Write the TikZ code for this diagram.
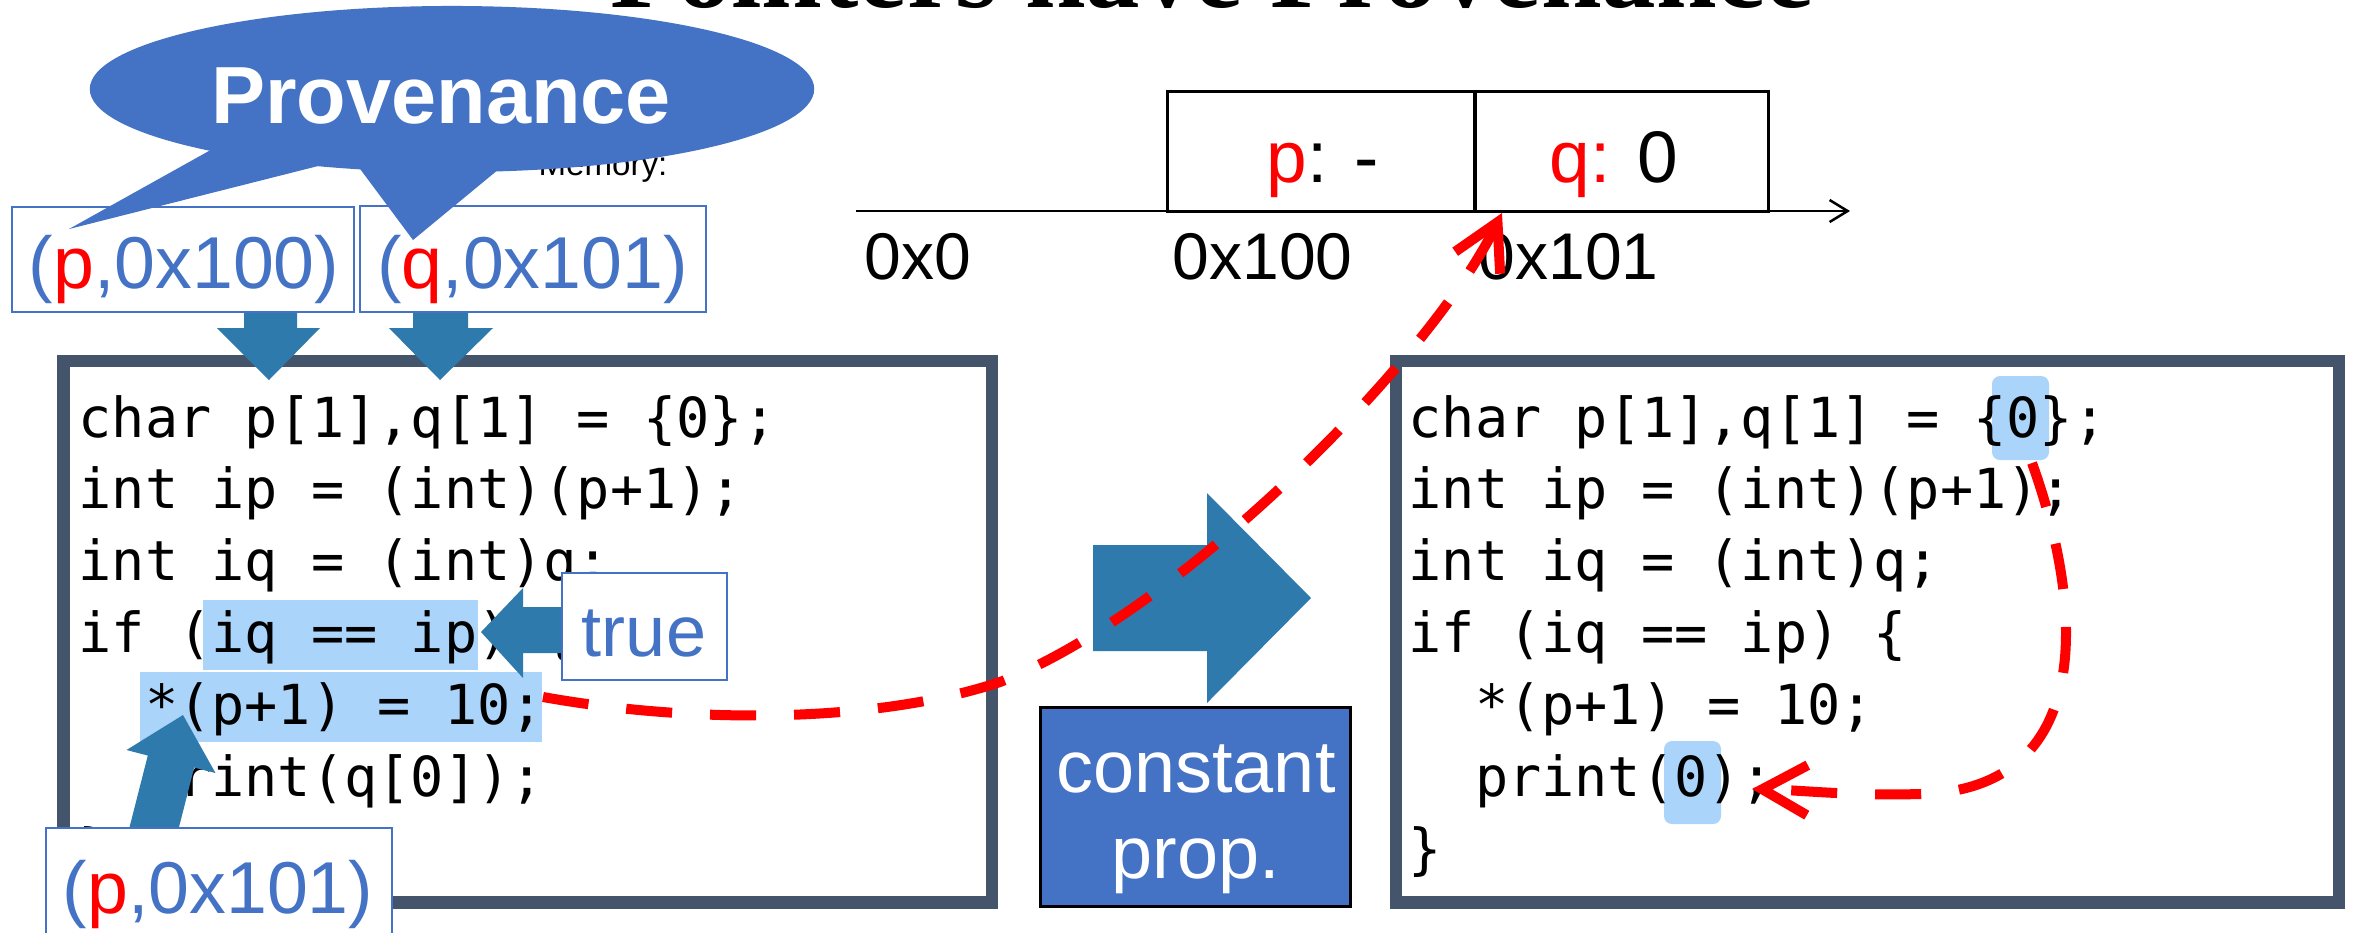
\documentclass[tikz,border=0pt]{standalone}
\usepackage{fontspec}
\setmainfont{Liberation Sans}
\newfontfamily\codefont{DejaVu Sans Mono}
\newfontfamily\titlefont{Liberation Serif}
\usetikzlibrary{arrows.meta}
\definecolor{provblue}{RGB}{68,114,196}
\definecolor{frameslate}{RGB}{68,84,106}
\definecolor{arrowteal}{RGB}{47,122,172}
\definecolor{hlblue}{RGB}{171,212,250}
\newcommand\fsz[1]{\fontsize{#1}{#1}\selectfont}
\begin{document}
\begin{tikzpicture}[x=0.01cm,y=-0.01cm,
  lbl/.style={inner sep=0pt, anchor=base},
  lblw/.style={inner sep=0pt, anchor=base west},
  code/.style={inner sep=0pt, anchor=base west, font=\codefont\fsz{15.69pt}},
  pbox/.style={draw=provblue, line width=0.025cm, fill=white, inner sep=0pt, rectangle},
  codeframe/.style={draw=frameslate, line width=0.125cm, fill=white},
  memcell/.style={draw=black, line width=0.03cm, inner sep=0pt, rectangle, minimum height=1.19cm},
  reddash/.style={draw=red, line width=0.1cm, dash pattern=on 0.46cm off 0.38cm,
     -{Straight Barb[length=0.45cm,width=0.5cm]}},
]
\useasboundingbox (0,0) rectangle (2354,932);
\fill[white] (0,0) rectangle (2354,932);

% title (cut off at top)
\node[lbl, font=\titlefont\bfseries\fsz{31pt}] (title) at (1212,7) {Pointers have Provenance};

% hidden label
\node[lblw, font=\fsz{9.4pt}] (memlbl) at (538,175) {Memory:};

% provenance boxes
\node[pbox, minimum width=3.42cm, minimum height=1.05cm] (b100) at (183,259.5) {};
\node[lbl, text=provblue, font=\fsz{20.9pt}] (t100) at (184,288) {(\textcolor{red}{p},0x100)};
\node[pbox, minimum width=3.46cm, minimum height=1.06cm] (b101) at (533,259) {};
\node[lbl, text=provblue, font=\fsz{20.9pt}] (t101) at (532.5,288) {(\textcolor{red}{q},0x101)};

% speech bubble
\fill[provblue] (452,89) ellipse [x radius=3.62cm, y radius=0.83cm];
\fill[provblue] (69,229) -- (225,142) -- (300,130) -- (330,163) -- cycle;
\fill[provblue] (413,240) -- (346,150) -- (522,150) -- cycle;
\node[lbl, text=white, font=\bfseries\fsz{23.05pt}] (prov) at (441,123) {Provenance};

% code frames
\draw[codeframe] (63.5,361) rectangle (992,902.5);
\draw[codeframe] (1396,361) rectangle (2339,902.5);

% down arrows
\fill[arrowteal] (244,313) -- (297,313) -- (297,328) -- (320,328) -- (269,380) -- (217,328) -- (244,328) -- cycle;
\fill[arrowteal] (413,313) -- (468,313) -- (468,328) -- (493,328) -- (440,380) -- (389,328) -- (413,328) -- cycle;

% highlights
\fill[hlblue] (203,600) rectangle (478,670);
\fill[hlblue] (140,672) rectangle (542,742);
\fill[hlblue, rounded corners=0.08cm] (1992,376) rectangle (2049,460);
\fill[hlblue, rounded corners=0.08cm] (1664,741) rectangle (1721,824);

% left code
\node[code] (l1) at (78,437) {char p[1],q[1] = \{0\};};
\node[code] (l2) at (78,508.9) {int ip = (int)(p+1);};
\node[code] (l3) at (78,580.8) {int iq = (int)q;};
\node[code] (l4) at (78,652.7) {if (iq == ip) \{};
\node[code] (l5) at (144.4,724.6) {*(p+1) = 10;};
\node[code] (l6) at (144.4,796.5) {print(q[0]);};
\node[code] (l7) at (78,868.4) {\}};

% right code
\node[code] (r1) at (1408,437) {char p[1],q[1] = \{0\};};
\node[code] (r2) at (1408,508.9) {int ip = (int)(p+1);};
\node[code] (r3) at (1408,580.8) {int iq = (int)q;};
\node[code] (r4) at (1408,652.7) {if (iq == ip) \{};
\node[code] (r5) at (1474.4,724.6) {*(p+1) = 10;};
\node[code] (r6) at (1474.4,796.5) {print(0);};
\node[code] (r7) at (1408,868.4) {\}};

% big arrow and constant prop.
\fill[arrowteal] (1093,545) -- (1207,545) -- (1207,493) -- (1311,598) -- (1207,703) -- (1207,651) -- (1093,651) -- cycle;
\node[draw=black, line width=0.03cm, fill=provblue, minimum width=3.09cm, minimum height=1.98cm, inner sep=0pt] (cp) at (1195.5,807) {};
\node[lbl, text=white, font=\fsz{21pt}] (cpt1) at (1196,792) {constant};
\node[lbl, text=white, font=\fsz{21pt}] (cpt2) at (1196,878) {prop.};

% true
\fill[arrowteal] (481,632) -- (523,588) -- (523,607) -- (566,607) -- (566,653) -- (523,653) -- (523,678) -- cycle;
\node[pbox, minimum width=1.65cm, minimum height=1.07cm] (truebox) at (644.5,626.5) {};
\node[lbl, text=provblue, font=\fsz{20.5pt}] (truet) at (644,656) {true};

% (p,0x101)
\fill[arrowteal] (183,715) -- (215.5,773) -- (194.2,767.5) -- (174.2,846) -- (127.8,834) -- (147.8,755.5) -- (126.5,750) -- cycle;
\node[pbox, minimum width=3.46cm, minimum height=1.32cm] (bp101) at (219,894) {};
\node[lbl, text=provblue, font=\fsz{20.9pt}] (tp101) at (218,913) {(\textcolor{red}{p},0x101)};

% memory
\coordinate (axs) at (856,211);
\coordinate (axe) at (1850,211);
\node[memcell, minimum width=3.07cm] (mp) at (1321.5,151.5) {};
\node[memcell, minimum width=2.93cm] (mq) at (1621.5,151.5) {};
\draw[line width=0.025cm, -{Straight Barb[length=0.18cm,width=0.22cm]}] (axs) -- (axe);
\node[lbl, font=\fsz{20.77pt}] (mpt) at (1323,182) {\textcolor{red}{p}: -};
\node[lbl, font=\fsz{20.77pt}] (mqt) at (1614,182) {\textcolor{red}{q:} 0};
\node[lblw, font=\fsz{18.78pt}] (a0) at (864,279) {0x0};
\node[lblw, font=\fsz{18.78pt}] (a100) at (1172,279) {0x100};
\node[lblw, font=\fsz{18.78pt}] (a101) at (1478,279) {0x101};

% red dashed arrows
\coordinate (s1) at (543,697);
\coordinate (addr) at (1502,213);
\draw[reddash] (s1) .. controls (700,725) and (880,722) .. (1000,682) .. controls (1180,612) and (1430,360) .. (addr);
\coordinate (s2) at (2032,463);
\coordinate (e2) at (1752,789);
\draw[reddash] (s2) .. controls (2085,610) and (2095,790) .. (1920,794) .. controls (1850,796) and (1800,790) .. (e2);
\end{tikzpicture}
\end{document}
